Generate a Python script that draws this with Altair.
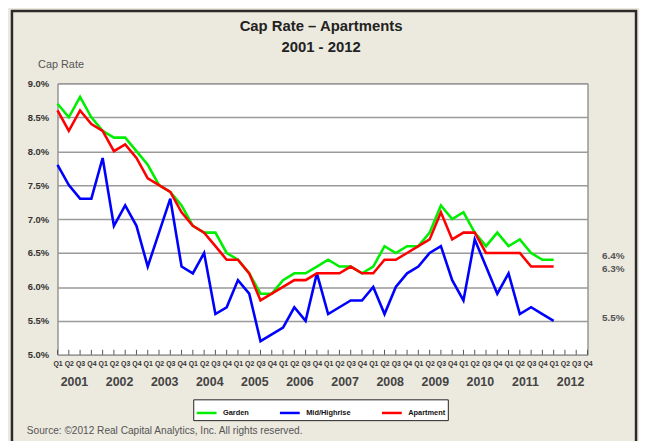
import altair as alt
import pandas as pd

# ---- data ----
years = [str(y) for y in range(2001, 2013)]
series_names = ["Garden", "Mid/Highrise", "Apartment"]
series_colors = ["#00EE00", "#0000FF", "#FF0000"]

garden = [8.7, 8.5, 8.8, 8.5, 8.3, 8.2, 8.2, 8.0, 7.8, 7.5, 7.4, 7.2,
          6.9, 6.8, 6.8, 6.5, 6.4, 6.2, 5.9, 5.9, 6.1, 6.2, 6.2, 6.3,
          6.4, 6.3, 6.3, 6.2, 6.3, 6.6, 6.5, 6.6, 6.6, 6.8, 7.2, 7.0,
          7.1, 6.8, 6.6, 6.8, 6.6, 6.7, 6.5, 6.4, 6.4]
mid_highrise = [7.8, 7.5, 7.3, 7.3, 7.9, 6.9, 7.2, 6.9, 6.3, 6.8, 7.3, 6.3,
                6.2, 6.5, 5.6, 5.7, 6.1, 5.9, 5.2, 5.3, 5.4, 5.7, 5.5, 6.2,
                5.6, 5.7, 5.8, 5.8, 6.0, 5.6, 6.0, 6.2, 6.3, 6.5, 6.6, 6.1,
                5.8, 6.7, 6.3, 5.9, 6.2, 5.6, 5.7, 5.6, 5.5]
apartment = [8.6, 8.3, 8.6, 8.4, 8.3, 8.0, 8.1, 7.9, 7.6, 7.5, 7.4, 7.1,
             6.9, 6.8, 6.6, 6.4, 6.4, 6.2, 5.8, 5.9, 6.0, 6.1, 6.1, 6.2,
             6.2, 6.2, 6.3, 6.2, 6.2, 6.4, 6.4, 6.5, 6.6, 6.7, 7.1, 6.7,
             6.8, 6.8, 6.5, 6.5, 6.5, 6.5, 6.3, 6.3, 6.3]
y_ticks = [5.0, 5.5, 6.0, 6.5, 7.0, 7.5, 8.0, 8.5, 9.0]

title_lines = ["Cap Rate \u2013 Apartments", "2001 - 2012"]
y_title = "Cap Rate"
source_text = "Source:  \u00a92012 Real Capital Analytics, Inc.  All rights reserved."

# ---- tables ----
W, H = 535, 274
n_q = len(years) * 4
all_series = [garden, mid_highrise, apartment]

rows = []
for name, vals in zip(series_names, all_series):
    for i, v in enumerate(vals):
        rows.append({"idx": i, "value": v, "series": name})
df = pd.DataFrame(rows)

tick_df = pd.DataFrame({"idx": list(range(n_q))})
year_df = pd.DataFrame({"year": years, "mid": [i * 4 + 1.5 for i in range(len(years))]})
one = pd.DataFrame({"a": [0]})

x_scale = alt.Scale(domain=[0, n_q - 1], nice=False, zero=False)
y_scale = alt.Scale(domain=[5, 9], nice=False, zero=False)

x_axis = alt.Axis(values=list(range(n_q)),
                  labelExpr="'Q' + (datum.value % 4 + 1)",
                  ticks=False, grid=False, domain=False,
                  labelFontSize=7, labelFontWeight="bold", labelColor="#333",
                  labelPadding=5, labelOverlap=False, labelFlush=False, title=None)
y_axis = alt.Axis(values=y_ticks,
                  labelExpr="format(datum.value, '.1f') + '%'",
                  ticks=False, domain=False, grid=True,
                  gridColor="#9a9a9a", gridWidth=1.5,
                  labelFontSize=9.5, labelFontWeight="bold", labelColor="#333",
                  labelPadding=9, title=None)

X = alt.X("idx:Q", scale=x_scale, axis=x_axis)
Y = alt.Y("value:Q", scale=y_scale, axis=y_axis)

frame = alt.Chart(one).mark_rect(fillOpacity=0, stroke="#2a2a2a", strokeWidth=2.5).encode(
    x=alt.value(-46), x2=alt.value(584), y=alt.value(-73), y2=alt.value(420))

inner_ticks = alt.Chart(tick_df).mark_rule(color="#555", strokeWidth=1).encode(
    x=X, y=alt.value(H - 5), y2=alt.value(H))

lines = alt.Chart(df).mark_line(strokeWidth=2.6).encode(
    x=X, y=Y,
    color=alt.Color("series:N",
                    scale=alt.Scale(domain=series_names, range=series_colors),
                    legend=alt.Legend(title=None, orient="none", legendX=137, legendY=319,
                                      direction="horizontal", symbolType="stroke",
                                      symbolSize=400, symbolStrokeWidth=2.5,
                                      labelFontSize=7.5, labelFontWeight="bold",
                                      labelColor="#111", fillColor="white",
                                      strokeColor="#222", padding=2,
                                      columnPadding=25, labelOffset=5)),
    order=alt.Order("idx:Q"))

year_text = alt.Chart(year_df).mark_text(fontSize=12.5, fontWeight="bold", color="#444",
                                         baseline="middle").encode(
    x=alt.X("mid:Q", scale=x_scale, axis=x_axis), y=alt.value(302), text="year:N")

end_layers = []
for name, vals, dy in zip(series_names, all_series, [-4, -3, 3]):
    edf = pd.DataFrame({"value": [vals[-1]]})
    end_layers.append(
        alt.Chart(edf).transform_calculate(
            label="format(datum.value, '.1f') + '%'"
        ).mark_text(fontSize=10, fontWeight="bold", color="#555",
                    baseline="middle", dy=dy).encode(
            x=alt.value(561), y=alt.Y("value:Q", scale=y_scale, axis=y_axis),
            text="label:N"))

title1 = alt.Chart(one).mark_text(text=title_lines[0], fontSize=15, fontWeight="bold",
                                  color="#222", baseline="middle").encode(
    x=alt.value(266), y=alt.value(-58))
title2 = alt.Chart(one).mark_text(text=title_lines[1], fontSize=15, fontWeight="bold",
                                  color="#222", baseline="middle").encode(
    x=alt.value(266), y=alt.value(-37))
ytitle = alt.Chart(one).mark_text(text=y_title, fontSize=11, color="#555",
                                  baseline="middle").encode(
    x=alt.value(3.5), y=alt.value(-18))
source = alt.Chart(one).mark_text(text=source_text, fontSize=10.2, color="#555",
                                  align="left", baseline="middle").encode(
    x=alt.value(-31), y=alt.value(351))

chart = alt.layer(frame, inner_ticks, lines, year_text, *end_layers,
                  title1, title2, ytitle, source).properties(
    width=W, height=H,
    padding={"left": 50, "top": 74, "right": 52, "bottom": 85},
    autosize=alt.AutoSizeParams(type="none"),
).configure(
    background="#ECE9DE", font="Liberation Sans"
).configure_view(fill="white", stroke="#666", strokeWidth=1)

chart.save("out.html", embed_options={"renderer": "svg", "actions": False})
